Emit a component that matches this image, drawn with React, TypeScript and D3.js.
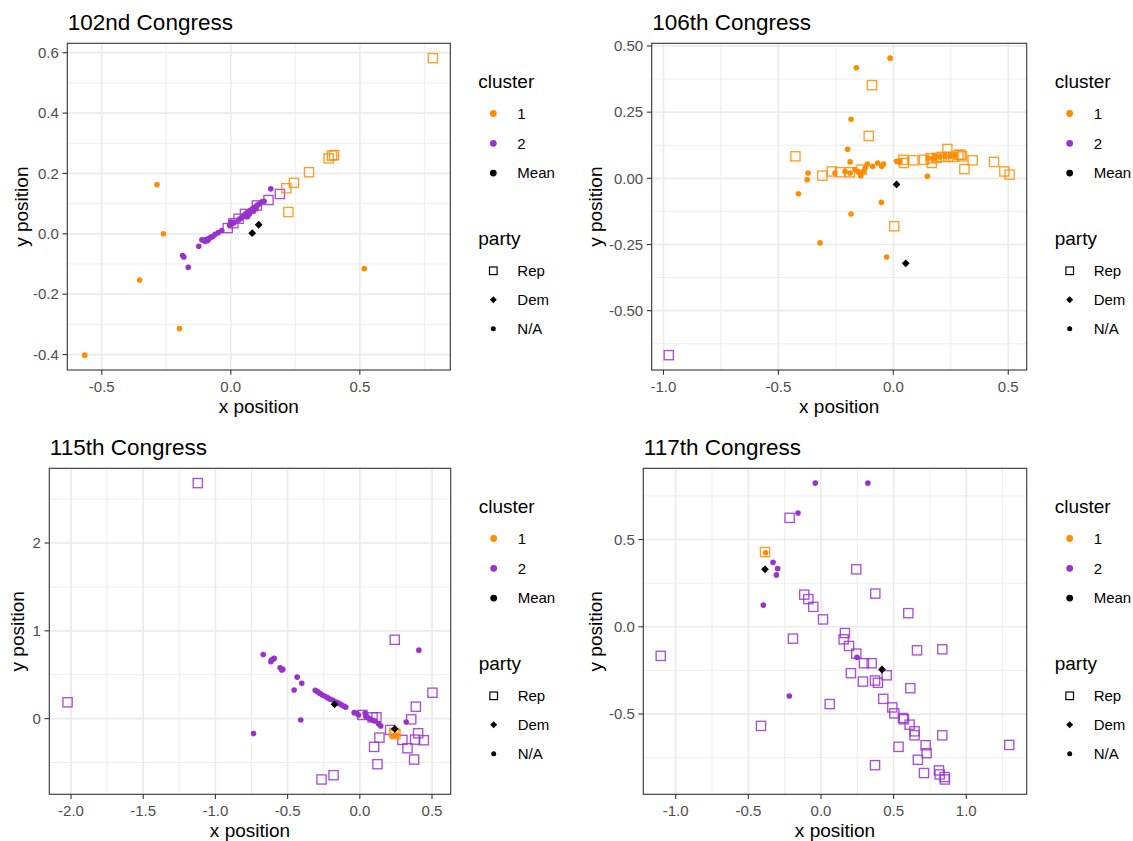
import React from 'react';
import * as d3 from 'd3';

type Pt = [number, number];

const ORANGE = '#FF8C00';
const PURPLE = '#9932CC';
const FONT = '"Liberation Sans", Arial, Helvetica, sans-serif';

// ---------- 102nd Congress ----------
const c102Cluster1NA: Pt[] = [
  [-0.566, -0.402], [-0.286, 0.163], [-0.261, 0.0], [-0.353, -0.153], [-0.199, -0.314], [0.517, -0.115],
];
const c102Cluster1Rep: Pt[] = [
  [0.783, 0.582], [0.379, 0.25], [0.392, 0.259], [0.4, 0.261], [0.303, 0.204], [0.245, 0.169],
  [0.215, 0.151], [0.223, 0.072],
];
const c102Cluster2NA: Pt[] = [
  [-0.124, -0.041], [-0.187, -0.072], [-0.182, -0.077], [-0.165, -0.111], [0.155, 0.149],
  [-0.112, -0.02], [-0.103, -0.022], [-0.095, -0.018], [-0.089, -0.022], [-0.083, -0.015],
  [-0.077, -0.011], [-0.07, -0.009], [-0.099, -0.025], [-0.061, -0.002], [-0.048, 0.004],
  [-0.035, 0.011], [-0.005, 0.028], [0.004, 0.033], [0.013, 0.037], [0.0, 0.039],
  [0.036, 0.05], [0.043, 0.055], [0.052, 0.061], [0.059, 0.068], [0.068, 0.073],
  [0.077, 0.079], [0.085, 0.084], [0.093, 0.088], [0.101, 0.094], [0.107, 0.097],
  [0.114, 0.101], [0.121, 0.106], [0.129, 0.108], [0.072, 0.066], [0.088, 0.075],
  [0.098, 0.083], [0.062, 0.057], [0.03, 0.046],
];
const c102Cluster2Rep: Pt[] = [
  [-0.012, 0.019], [0.01, 0.035], [0.03, 0.05], [0.055, 0.066], [0.101, 0.094], [0.146, 0.112], [0.19, 0.132],
];
const c102Means: Pt[] = [[0.083, 0.002], [0.108, 0.03]];

// ---------- 106th Congress ----------
const c106Cluster1NA: Pt[] = [
  [-0.014, 0.454], [-0.161, 0.418], [-0.184, 0.223], [-0.199, 0.11], [-0.188, 0.062],
  [-0.371, 0.02], [-0.375, -0.005], [-0.413, -0.058], [-0.319, -0.244], [-0.184, -0.135],
  [-0.052, -0.091], [-0.029, -0.297], [0.148, 0.008],
  [-0.254, 0.02], [-0.21, 0.026], [-0.167, 0.033], [-0.142, 0.01], [-0.123, 0.039],
  [-0.113, 0.054], [-0.09, 0.045], [-0.068, 0.058], [-0.051, 0.045], [-0.043, 0.054],
  [0.014, 0.064], [0.029, 0.064], [-0.152, 0.026], [-0.13, 0.026], [-0.188, 0.02],
  [0.152, 0.077], [0.181, 0.083], [0.203, 0.081], [0.225, 0.083], [0.246, 0.083],
  [0.268, 0.086], [0.174, 0.073],
];
const c106Cluster1Rep: Pt[] = [
  [-0.093, 0.352], [-0.107, 0.16], [-0.426, 0.083], [-0.309, 0.01], [-0.268, 0.026],
  [-0.232, 0.023], [-0.188, 0.023], [-0.138, 0.033], [0.004, -0.181], [0.043, 0.07],
  [0.046, 0.058], [0.087, 0.068], [0.133, 0.07], [0.167, 0.058], [0.162, 0.076],
  [0.188, 0.077], [0.21, 0.081], [0.235, 0.111], [0.239, 0.081], [0.261, 0.081],
  [0.283, 0.089], [0.293, 0.089], [0.299, 0.083], [0.309, 0.035], [0.345, 0.068],
  [0.438, 0.062], [0.483, 0.026], [0.506, 0.014],
];
const c106Cluster2Rep: Pt[] = [[-0.977, -0.668]];
const c106Means: Pt[] = [[0.014, -0.023], [0.054, -0.321]];

// ---------- 115th Congress ----------
const c115Cluster2NA: Pt[] = [
  [-0.669, 0.731], [-0.616, 0.648], [-0.6, 0.678], [-0.612, 0.667], [-0.593, 0.686],
  [-0.552, 0.58], [-0.533, 0.561], [-0.54, 0.553], [-0.434, 0.473], [-0.402, 0.402],
  [-0.455, 0.326], [-0.409, -0.015], [-0.736, -0.17], [0.409, 0.78], [0.321, -0.038],
  [-0.309, 0.322], [-0.293, 0.307], [-0.277, 0.288], [-0.259, 0.269], [-0.242, 0.254],
  [-0.224, 0.239], [-0.208, 0.223], [-0.189, 0.212], [-0.171, 0.193], [-0.155, 0.182],
  [-0.139, 0.17], [-0.125, 0.155], [-0.108, 0.14], [-0.097, 0.129],
  [-0.039, 0.068], [-0.021, 0.061], [-0.009, 0.042], [0.037, 0.061], [0.042, 0.023],
  [0.053, 0.015], [0.072, -0.004], [0.088, -0.015], [0.104, -0.027], [0.129, -0.057],
  [0.145, -0.083],
];
const c115Cluster2Rep: Pt[] = [
  [-1.122, 2.682], [-2.024, 0.186], [0.242, 0.898], [0.503, 0.295], [0.388, 0.136],
  [0.356, -0.008], [0.404, -0.167], [0.383, -0.239], [0.443, -0.246], [0.295, -0.242],
  [0.33, -0.337], [0.376, -0.466], [0.21, -0.129], [0.136, -0.216], [0.099, -0.322],
  [0.122, -0.519], [-0.265, -0.693], [-0.182, -0.644], [0.088, 0.015], [0.115, 0.015],
  [0.018, 0.042],
];
const c115Cluster1Rep: Pt[] = [[0.247, -0.178], [0.238, -0.163]];
const c115Cluster1NA: Pt[] = [[0.252, -0.186], [0.235, -0.193]];
const c115Means: Pt[] = [[-0.175, 0.163], [0.242, -0.117]];

// ---------- 117th Congress ----------
const c117Cluster2NA: Pt[] = [
  [-0.039, 0.823], [0.323, 0.823], [-0.158, 0.652], [-0.33, 0.369], [-0.298, 0.333],
  [-0.307, 0.297], [-0.397, 0.124], [0.248, -0.175], [-0.218, -0.397],
];
const c117Cluster2Rep: Pt[] = [
  [-0.216, 0.624], [0.243, 0.329], [0.374, 0.19], [-0.115, 0.184], [-0.087, 0.158],
  [-0.053, 0.114], [0.014, 0.042], [0.601, 0.078], [-1.103, -0.167], [-0.193, -0.068],
  [0.165, -0.036], [0.156, -0.072], [0.193, -0.11], [0.243, -0.154], [0.296, -0.209],
  [0.349, -0.209], [0.661, -0.135], [0.835, -0.129], [0.206, -0.266], [0.289, -0.314],
  [0.372, -0.308], [0.392, -0.321], [0.452, -0.278], [0.615, -0.352], [0.06, -0.443],
  [0.429, -0.413], [0.491, -0.462], [0.505, -0.496], [0.564, -0.523], [0.571, -0.53],
  [0.61, -0.561], [0.644, -0.599], [0.644, -0.622], [0.72, -0.679], [0.727, -0.724],
  [0.835, -0.622], [1.296, -0.677], [-0.413, -0.568], [0.534, -0.688], [0.667, -0.762],
  [0.709, -0.838], [0.812, -0.823], [0.817, -0.846], [0.851, -0.861], [0.853, -0.875],
  [0.372, -0.793],
];
const c117Cluster1Rep: Pt[] = [[-0.385, 0.428]];
const c117Cluster1NA: Pt[] = [[-0.381, 0.424]];
const c117Means: Pt[] = [[-0.385, 0.329], [0.42, -0.245]];

// ---------- axis ticks ----------
const c102XTicks = [-0.5, 0, 0.5];
const c102YTicks = [-0.4, -0.2, 0, 0.2, 0.4, 0.6];
const c106XTicks = [-1.0, -0.5, 0, 0.5];
const c106YTicks = [-0.5, -0.25, 0, 0.25, 0.5];
const c115XTicks = [-2.0, -1.5, -1.0, -0.5, 0, 0.5];
const c115YTicks = [0, 1, 2];
const c117XTicks = [-1.0, -0.5, 0, 0.5, 1.0];
const c117YTicks = [-0.5, 0, 0.5];

const clusterLegend = ['1', '2', 'Mean'];
const partyLegend = ['Rep', 'Dem', 'N/A'];

type Shape = 'square' | 'diamond' | 'dot';
interface Layer { pts: Pt[]; color: string; shape: Shape }
interface Box { x0: number; x1: number; y0: number; y1: number }
interface PanelSpec {
  title: string;
  layers: Layer[];
  xTicks: number[];
  yTicks: number[];
  xDigits: number;
  yDigits: number;
  box: Box;
  yTitleX: number;
}

const panels: PanelSpec[] = [
  {
    title: '102nd Congress',
    layers: [
      { pts: c102Cluster2NA, color: PURPLE, shape: 'dot' },
      { pts: c102Cluster2Rep, color: PURPLE, shape: 'square' },
      { pts: c102Cluster1NA, color: ORANGE, shape: 'dot' },
      { pts: c102Cluster1Rep, color: ORANGE, shape: 'square' },
      { pts: c102Means, color: '#000000', shape: 'diamond' },
    ],
    xTicks: c102XTicks, yTicks: c102YTicks, xDigits: 1, yDigits: 1,
    box: { x0: 67.3, x1: 450.3, y0: 43.3, y1: 370 },
    yTitleX: 28,
  },
  {
    title: '106th Congress',
    layers: [
      { pts: c106Cluster2Rep, color: PURPLE, shape: 'square' },
      { pts: c106Cluster1NA, color: ORANGE, shape: 'dot' },
      { pts: c106Cluster1Rep, color: ORANGE, shape: 'square' },
      { pts: c106Means, color: '#000000', shape: 'diamond' },
    ],
    xTicks: c106XTicks, yTicks: c106YTicks, xDigits: 1, yDigits: 2,
    box: { x0: 651.7, x1: 1026.7, y0: 43.3, y1: 370 },
    yTitleX: 602,
  },
  {
    title: '115th Congress',
    layers: [
      { pts: c115Cluster2NA, color: PURPLE, shape: 'dot' },
      { pts: c115Cluster2Rep, color: PURPLE, shape: 'square' },
      { pts: c115Cluster1Rep, color: ORANGE, shape: 'square' },
      { pts: c115Cluster1NA, color: ORANGE, shape: 'dot' },
      { pts: c115Means, color: '#000000', shape: 'diamond' },
    ],
    xTicks: c115XTicks, yTicks: c115YTicks, xDigits: 1, yDigits: 0,
    box: { x0: 49.3, x1: 450.7, y0: 468.3, y1: 794.3 },
    yTitleX: 24,
  },
  {
    title: '117th Congress',
    layers: [
      { pts: c117Cluster2NA, color: PURPLE, shape: 'dot' },
      { pts: c117Cluster2Rep, color: PURPLE, shape: 'square' },
      { pts: c117Cluster1Rep, color: ORANGE, shape: 'square' },
      { pts: c117Cluster1NA, color: ORANGE, shape: 'dot' },
      { pts: c117Means, color: '#000000', shape: 'diamond' },
    ],
    xTicks: c117XTicks, yTicks: c117YTicks, xDigits: 1, yDigits: 1,
    box: { x0: 643.3, x1: 1026.7, y0: 468.3, y1: 794.3 },
    yTitleX: 602,
  },
];

// ggplot-style continuous expansion: 5% of the range on each side
function expandedDomain(vals: number[]): [number, number] {
  const [lo, hi] = d3.extent(vals) as [number, number];
  const pad = (hi - lo) * 0.05;
  return [lo - pad, hi + pad];
}

function minorTicks(major: number[], domain: [number, number]): number[] {
  const step = major[1] - major[0];
  const out: number[] = [];
  const all = [major[0] - step, ...major, major[major.length - 1] + step];
  for (let i = 0; i < all.length - 1; i++) {
    const m = (all[i] + all[i + 1]) / 2;
    if (m >= domain[0] && m <= domain[1]) out.push(m);
  }
  return out;
}

const diamondPath = (s: number) => `M0,${-s}L${s},0L0,${s}L${-s},0Z`;

function Mark({ shape, color, x, y }: { shape: Shape; color: string; x: number; y: number }) {
  if (shape === 'square') {
    return (
      <rect x={x - 4.6} y={y - 4.6} width={9.2} height={9.2} fill="none"
        stroke={color} strokeWidth={1.35} strokeOpacity={0.85} />
    );
  }
  if (shape === 'diamond') {
    return <path d={diamondPath(3.9)} transform={`translate(${x},${y})`} fill={color} />;
  }
  return <circle cx={x} cy={y} r={2.8} fill={color} />;
}

function Panel({ spec }: { spec: PanelSpec }) {
  const { box } = spec;
  const allPts = spec.layers.flatMap((l) => l.pts);
  const xDom = expandedDomain(allPts.map((p) => p[0]));
  const yDom = expandedDomain(allPts.map((p) => p[1]));
  const x = d3.scaleLinear().domain(xDom).range([box.x0, box.x1]);
  const y = d3.scaleLinear().domain(yDom).range([box.y1, box.y0]);
  const xMinor = minorTicks(spec.xTicks, xDom);
  const yMinor = minorTicks(spec.yTicks, yDom);
  const cx = (box.x0 + box.x1) / 2;
  const cy = (box.y0 + box.y1) / 2;

  // legend anchors
  const keyX = box.x1 + 43;
  const titleX = box.x1 + 28;
  const labelX = box.x1 + 67;
  const ly = box.y0 - 43.3;

  return (
    <g>
      <text x={box.x0 + 0.5} y={box.y0 - 13.5} fontSize={22.5} fill="#000">{spec.title}</text>

      <rect x={box.x0} y={box.y0} width={box.x1 - box.x0} height={box.y1 - box.y0} fill="#fff" />
      {xMinor.map((t) => (
        <line key={`xm${t}`} x1={x(t)} x2={x(t)} y1={box.y0} y2={box.y1} stroke="#EBEBEB" strokeWidth={0.9} />
      ))}
      {yMinor.map((t) => (
        <line key={`ym${t}`} x1={box.x0} x2={box.x1} y1={y(t)} y2={y(t)} stroke="#EBEBEB" strokeWidth={0.9} />
      ))}
      {spec.xTicks.map((t) => (
        <line key={`xg${t}`} x1={x(t)} x2={x(t)} y1={box.y0} y2={box.y1} stroke="#EBEBEB" strokeWidth={1.7} />
      ))}
      {spec.yTicks.map((t) => (
        <line key={`yg${t}`} x1={box.x0} x2={box.x1} y1={y(t)} y2={y(t)} stroke="#EBEBEB" strokeWidth={1.7} />
      ))}

      {spec.layers.map((l, li) =>
        l.pts.map((p, i) => (
          <Mark key={`${li}-${i}`} shape={l.shape} color={l.color} x={x(p[0])} y={y(p[1])} />
        ))
      )}

      <rect x={box.x0} y={box.y0} width={box.x1 - box.x0} height={box.y1 - box.y0}
        fill="none" stroke="#333333" strokeWidth={1.1} />

      {spec.xTicks.map((t) => (
        <g key={`xt${t}`}>
          <line x1={x(t)} x2={x(t)} y1={box.y1} y2={box.y1 + 4.8} stroke="#333333" strokeWidth={1.1} />
          <text x={x(t)} y={box.y1 + 21.8} fontSize={15} fill="#4D4D4D" textAnchor="middle">
            {t.toFixed(spec.xDigits)}
          </text>
        </g>
      ))}
      {spec.yTicks.map((t) => (
        <g key={`yt${t}`}>
          <line x1={box.x0 - 4.8} x2={box.x0} y1={y(t)} y2={y(t)} stroke="#333333" strokeWidth={1.1} />
          <text x={box.x0 - 8.5} y={y(t) + 5.3} fontSize={15} fill="#4D4D4D" textAnchor="end">
            {t.toFixed(spec.yDigits)}
          </text>
        </g>
      ))}

      <text x={cx} y={box.y1 + 43} fontSize={19} textAnchor="middle" fill="#000">x position</text>
      <text transform={`translate(${spec.yTitleX},${cy}) rotate(-90)`} fontSize={19} textAnchor="middle" fill="#000">
        y position
      </text>

      {/* cluster legend */}
      <text x={titleX} y={ly + 88.3} fontSize={19} fill="#000">cluster</text>
      {clusterLegend.map((lab, i) => {
        const yy = ly + 113.5 + i * 29.8;
        const col = i === 0 ? ORANGE : i === 1 ? PURPLE : '#000000';
        return (
          <g key={`cl${lab}`}>
            <circle cx={keyX} cy={yy} r={3.4} fill={col} />
            <text x={labelX} y={yy + 5.3} fontSize={15} fill="#000">{lab}</text>
          </g>
        );
      })}

      {/* party legend */}
      <text x={titleX} y={ly + 245} fontSize={19} fill="#000">party</text>
      {partyLegend.map((lab, i) => {
        const yy = ly + 270.8 + i * 29;
        return (
          <g key={`pl${lab}`}>
            {i === 0 && (
              <rect x={keyX - 3.8} y={yy - 3.8} width={7.6} height={7.6} fill="none" stroke="#000" strokeWidth={1.2} />
            )}
            {i === 1 && <path d={diamondPath(3.5)} transform={`translate(${keyX},${yy})`} fill="#000" />}
            {i === 2 && <circle cx={keyX} cy={yy} r={2.5} fill="#000" />}
            <text x={labelX} y={yy + 5.3} fontSize={15} fill="#000">{lab}</text>
          </g>
        );
      })}
    </g>
  );
}

export default function App() {
  return (
    <svg width={1133} height={841} viewBox="0 0 1133 841"
      style={{ position: 'absolute', left: 0, top: 0, background: '#fff' }} fontFamily={FONT}>
      <rect x={0} y={0} width={1133} height={841} fill="#fff" />
      {panels.map((p) => (
        <Panel key={p.title} spec={p} />
      ))}
    </svg>
  );
}
